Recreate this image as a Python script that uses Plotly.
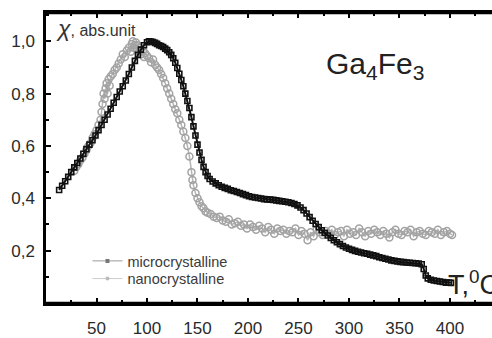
import plotly.graph_objects as go

# Magnetic susceptibility of Ga4Fe3 vs temperature
micro_T = [13, 16, 19, 22, 25, 28, 31, 34, 37, 40, 43, 46, 49, 52, 55, 58, 61, 64, 67, 70,
           73, 76, 79, 82, 85, 88, 91, 94, 97, 100, 102, 104, 106, 108, 110, 112, 114, 116,
           118, 120, 122, 124, 126, 128, 130, 132, 134, 136, 138, 140, 142, 144, 146, 148,
           150, 152, 154, 156, 158, 160, 162, 165, 168, 171, 174, 177, 180, 183, 186, 189,
           192, 195, 198, 201, 204, 207, 210, 213, 216, 219, 222, 225, 228, 231, 234, 237,
           240, 243, 246, 249, 252, 255, 258, 261, 264, 267, 270, 273, 276, 279, 282, 285,
           288, 291, 294, 297, 300, 303, 306, 309, 312, 315, 318, 321, 324, 327, 330, 333,
           336, 339, 342, 345, 348, 351, 354, 357, 360, 363, 366, 369, 372, 374, 376, 378,
           381, 384, 387, 390, 393, 396, 399, 401]
micro_chi = [0.432, 0.448, 0.465, 0.482, 0.500, 0.518, 0.535, 0.552, 0.570, 0.588, 0.605,
             0.622, 0.640, 0.660, 0.680, 0.700, 0.720, 0.742, 0.765, 0.787, 0.808, 0.828,
             0.850, 0.875, 0.900, 0.925, 0.948, 0.968, 0.985, 0.996, 1.000, 0.999, 0.997,
             0.994, 0.990, 0.985, 0.982, 0.978, 0.972, 0.966, 0.958, 0.948, 0.935, 0.918,
             0.898, 0.876, 0.852, 0.828, 0.800, 0.772, 0.745, 0.710, 0.675, 0.640, 0.605,
             0.575, 0.547, 0.520, 0.500, 0.485, 0.474, 0.464, 0.457, 0.450, 0.444, 0.440,
             0.436, 0.431, 0.428, 0.424, 0.420, 0.416, 0.412, 0.408, 0.405, 0.403, 0.401,
             0.399, 0.397, 0.396, 0.395, 0.394, 0.392, 0.390, 0.389, 0.387, 0.385, 0.382,
             0.378, 0.373, 0.365, 0.355, 0.342, 0.328, 0.314, 0.302, 0.290, 0.278, 0.268,
             0.258, 0.249, 0.240, 0.232, 0.225, 0.218, 0.212, 0.207, 0.203, 0.199, 0.196,
             0.193, 0.190, 0.188, 0.185, 0.182, 0.179, 0.175, 0.172, 0.169, 0.166, 0.163,
             0.161, 0.159, 0.157, 0.156, 0.155, 0.154, 0.153, 0.152, 0.151, 0.148, 0.130,
             0.105, 0.094, 0.089, 0.086, 0.084, 0.082, 0.080, 0.078, 0.078, 0.077]

nano_T = [28, 30, 32, 34, 36, 38, 40, 42, 44, 46, 48, 50, 52, 54, 55, 56, 57, 58, 59, 60,
          61, 62, 63, 64, 66, 68, 70, 72, 74, 76, 78, 80, 82, 84, 85, 86, 87, 88, 89, 90,
          91, 92, 93, 94, 96, 97, 98, 100, 102, 104, 106, 108, 110, 112, 114, 116, 118, 120,
          122, 124, 126, 128, 130, 132, 134, 136, 138, 140, 142, 144, 145, 146, 148, 150,
          152, 154, 156, 158, 160, 163, 166, 169, 172, 175, 178, 181, 184, 187, 190, 193,
          196, 199, 202, 205, 208, 211, 214, 217, 220, 223, 226, 229, 232, 235, 238, 241,
          244, 247, 250, 253, 256, 259, 262, 265, 268, 271, 274, 277, 280, 283, 286, 289,
          292, 295, 298, 301, 304, 307, 310, 313, 316, 319, 322, 325, 328, 331, 334, 337,
          340, 343, 346, 349, 352, 355, 358, 361, 364, 367, 370, 373, 376, 379, 382, 385,
          388, 391, 394, 397, 400, 402]
nano_chi = [0.505, 0.520, 0.530, 0.545, 0.555, 0.570, 0.585, 0.600, 0.610, 0.630, 0.645,
            0.660, 0.680, 0.700, 0.730, 0.760, 0.800, 0.780, 0.820, 0.840, 0.800, 0.855,
            0.830, 0.865, 0.875, 0.890, 0.900, 0.915, 0.930, 0.950, 0.940, 0.965, 0.975,
            0.960, 0.990, 1.000, 0.975, 0.985, 0.995, 0.970, 0.985, 0.960, 0.975, 0.950,
            0.965, 0.940, 0.955, 0.945, 0.935, 0.920, 0.930, 0.910, 0.900, 0.890, 0.875,
            0.860, 0.840, 0.820, 0.800, 0.780, 0.760, 0.740, 0.725, 0.700, 0.680, 0.655,
            0.630, 0.600, 0.560, 0.500, 0.470, 0.450, 0.420, 0.400, 0.385, 0.370, 0.362,
            0.350, 0.345, 0.340, 0.330, 0.325, 0.330, 0.315, 0.310, 0.320, 0.300, 0.305,
            0.310, 0.295, 0.300, 0.285, 0.300, 0.290, 0.280, 0.295, 0.285, 0.270, 0.290,
            0.280, 0.265, 0.285, 0.275, 0.280, 0.265, 0.275, 0.270, 0.285, 0.260, 0.275,
            0.265, 0.240, 0.270, 0.255, 0.280, 0.270, 0.260, 0.275, 0.265, 0.280, 0.260,
            0.270, 0.275, 0.255, 0.280, 0.265, 0.270, 0.260, 0.285, 0.270, 0.255, 0.275,
            0.265, 0.280, 0.270, 0.260, 0.275, 0.265, 0.250, 0.270, 0.280, 0.265, 0.260,
            0.275, 0.270, 0.280, 0.255, 0.270, 0.275, 0.265, 0.260, 0.275, 0.270, 0.265,
            0.280, 0.260, 0.270, 0.275, 0.265, 0.260]

x_ticks = [50, 100, 150, 200, 250, 300, 350, 400]
y_ticks = [0.2, 0.4, 0.6, 0.8, 1.0]

FONT = "Liberation Sans, Arial, sans-serif"

fig = go.Figure()

fig.add_trace(go.Scatter(
    x=nano_T, y=nano_chi, mode="lines+markers", showlegend=False,
    line=dict(color="#b5b5b5", width=1.5),
    marker=dict(symbol="circle-open", size=7, color="#a3a3a3", line=dict(width=1.5)),
))
fig.add_trace(go.Scatter(
    x=micro_T, y=micro_chi, mode="lines+markers", showlegend=False,
    line=dict(color="#111111", width=2),
    marker=dict(symbol="square-open", size=5, color="#111111", line=dict(width=1.6)),
))
# legend entries: thin line with a small marker in the middle
fig.add_trace(go.Scatter(
    x=[None], y=[None], mode="lines+markers", name="microcrystalline", legend="legend",
    line=dict(color="#9a9a9a", width=1),
    marker=dict(symbol="square", size=4, color="#777777"),
))
fig.add_trace(go.Scatter(
    x=[None], y=[None], mode="lines+markers", name="nanocrystalline", legend="legend2",
    line=dict(color="#cccccc", width=1),
    marker=dict(symbol="circle", size=4, color="#bbbbbb"),
))

axis_common = dict(
    showgrid=False, zeroline=False, showline=True, linecolor="black", linewidth=2.5,
    ticks="inside", ticklen=5, tickwidth=2, tickcolor="black",
    tickfont=dict(family=FONT, size=17, color="#2a2a2a"),
)

fig.update_xaxes(
    range=[0, 441.6], tickmode="array", tickvals=x_ticks, mirror="ticks",
    minor=dict(ticks="inside", ticklen=3, tickwidth=2, tickcolor="black", dtick=25, tick0=0),
    ticklabelstandoff=8,
    **axis_common,
)
fig.update_yaxes(
    range=[0, 1.108], tickmode="array", tickvals=y_ticks, tickformat=".1f",
    minor=dict(ticks="inside", ticklen=3, tickwidth=2, tickcolor="black", dtick=0.1, tick0=0),
    ticklabelstandoff=5,
    **axis_common,
)

# frame lines along the top and bottom of the plotting area
for y_edge in (0, 1):
    fig.add_shape(type="line", xref="paper", yref="paper", x0=0, x1=1, y0=y_edge, y1=y_edge,
                  line=dict(color="black", width=2.5), layer="above")

fig.add_annotation(
    xref="paper", yref="paper", x=0.018, y=0.947, xanchor="left", yanchor="middle",
    text="<i>χ</i><span style='font-size:16px'>, abs.unit</span>", showarrow=False,
    font=dict(family=FONT, size=23, color="#333333"),
)
fig.add_annotation(
    xref="paper", yref="paper", x=0.624, y=0.82, xanchor="left", yanchor="middle",
    text="Ga<sub>4</sub>Fe<sub>3</sub>", showarrow=False,
    font=dict(family=FONT, size=30, color="#222222"),
)
fig.add_annotation(
    xref="paper", yref="paper", x=0.897, y=0.07, xanchor="left", yanchor="middle",
    text="T,<sup>0</sup>C", showarrow=False,
    font=dict(family=FONT, size=27, color="#222222"),
)

legend_common = dict(
    xanchor="left", yanchor="middle", bgcolor="rgba(0,0,0,0)", borderwidth=0,
    font=dict(family=FONT, size=14.5, color="#3a3a3a"),
)

fig.update_layout(
    width=492, height=338,
    margin=dict(l=46, r=0, t=13, b=21),
    paper_bgcolor="white", plot_bgcolor="white",
    separators=",.",
    showlegend=True,
    legend=dict(x=0.093, y=0.145, **legend_common),
    legend2=dict(x=0.093, y=0.084, **legend_common),
)

fig.write_html("out.html")
